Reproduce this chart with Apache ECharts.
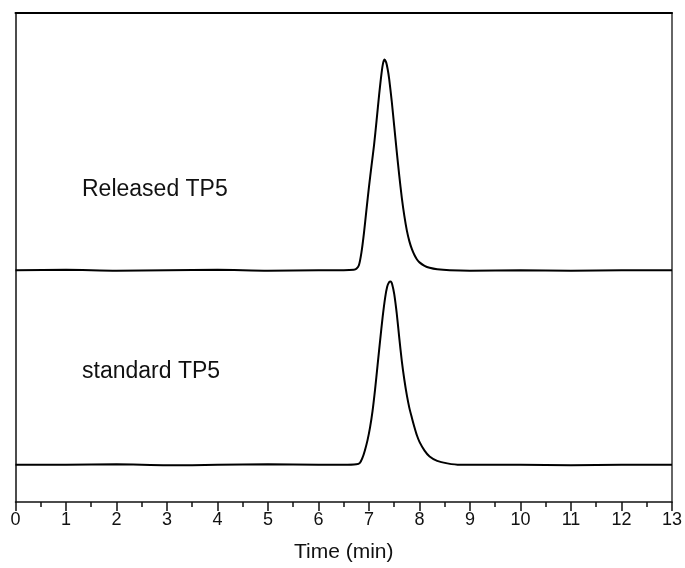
<!DOCTYPE html>
<html>
<head>
<meta charset="utf-8">
<script src="https://cdn.jsdelivr.net/npm/echarts@6/dist/echarts.min.js"></script>
<style>html,body{margin:0;padding:0;background:#fff;}#c{width:685px;height:568px;}</style>
</head>
<body>
<div id="c"></div>
<script>
// Data (time in min, arbitrary signal units)
var releasedTime = [0,1,2,3,4,5,6,6.5,6.7,6.75,6.8,6.85,6.9,6.95,7.0,7.05,7.1,7.15,7.2,7.25,7.28,7.31,7.34,7.37,7.4,7.45,7.5,7.55,7.6,7.65,7.7,7.75,7.8,7.85,7.9,7.95,8.0,8.1,8.2,8.35,8.6,9,10,11,12,13];
var releasedSignal = [47.4,47.5,47.3,47.4,47.5,47.3,47.4,47.4,47.5,47.7,48.4,51.0,55.0,59.8,64.5,68.8,73.0,78.0,83.2,87.8,89.8,90.5,89.9,88.5,86.5,82.0,76.8,71.6,66.7,62.2,58.5,55.5,53.3,51.7,50.5,49.6,49.0,48.3,47.9,47.6,47.4,47.3,47.4,47.3,47.4,47.4];
var standardTime = [0,1,2,3,4,5,6,6.5,6.75,6.82,6.87,6.92,6.97,7.02,7.07,7.12,7.17,7.22,7.27,7.32,7.36,7.4,7.43,7.46,7.5,7.55,7.6,7.65,7.7,7.75,7.8,7.85,7.9,7.95,8.0,8.1,8.2,8.35,8.55,8.8,9,10,11,12,13];
var standardSignal = [7.6,7.6,7.7,7.5,7.6,7.7,7.6,7.6,7.7,8.0,9.0,10.6,12.6,15.2,18.6,23.0,28.0,33.0,37.8,41.8,44.0,45.0,45.1,44.5,42.5,38.5,33.5,28.8,25.0,21.8,19.2,17.2,15.3,13.6,12.3,10.5,9.3,8.4,7.9,7.6,7.6,7.6,7.5,7.6,7.6];
var xTicks = [0,1,2,3,4,5,6,7,8,9,10,11,12,13];
var labels = ["Released TP5", "standard TP5"];

function pairs(xs, ys){ return xs.map(function(x,i){ return [x, ys[i]]; }); }

var chart = echarts.init(document.getElementById('c'), null, {renderer:'canvas'});
var font = '"Liberation Sans", Arial, sans-serif';
chart.setOption({
  animation: false,
  backgroundColor: '#fff',
  grid: {left: 15.5, right: 12.5, top: 13, bottom: 66},
  xAxis: [{
    type: 'value', min: xTicks[0], max: xTicks[xTicks.length-1], interval: 1,
    position: 'bottom',
    name: 'Time (min)', nameLocation: 'middle', nameGap: 40,
    nameTextStyle: {fontFamily: font, fontSize: 21, color: '#111'},
    axisLine: {show: true, onZero: false, lineStyle: {color: '#111', width: 1.5}},
    axisTick: {show: true, inside: false, length: 9, lineStyle: {color: '#111', width: 1.5}},
    minorTick: {show: true, splitNumber: 2, length: 5, lineStyle: {color: '#111', width: 1.5}},
    axisLabel: {fontFamily: font, fontSize: 18, color: '#111', margin: 9},
    splitLine: {show: false}
  },{
    type: 'value', min: 0, max: 13, position: 'top',
    axisLine: {show: true, onZero: false, lineStyle: {color: '#000', width: 2}},
    axisTick: {show: false}, axisLabel: {show: false}, splitLine: {show: false}
  }],
  yAxis: [{
    type: 'value', min: 0, max: 100, position: 'left',
    axisLine: {show: true, onZero: false, lineStyle: {color: '#111', width: 1.5}},
    axisTick: {show: false}, axisLabel: {show: false}, splitLine: {show: false}
  },{
    type: 'value', min: 0, max: 100, position: 'right',
    axisLine: {show: true, onZero: false, lineStyle: {color: '#333', width: 1.5}},
    axisTick: {show: false}, axisLabel: {show: false}, splitLine: {show: false}
  }],
  series: [{
    type: 'line', name: labels[0], data: pairs(releasedTime, releasedSignal),
    showSymbol: false, smooth: 0.25,
    lineStyle: {color: '#000', width: 2}
  },{
    type: 'line', name: labels[1], data: pairs(standardTime, standardSignal),
    showSymbol: false, smooth: 0.25,
    lineStyle: {color: '#000', width: 2}
  }],
  graphic: [
    {type: 'text', left: 82, top: 178, style: {text: labels[0], font: '23px ' + font, fill: '#111'}},
    {type: 'text', left: 82, top: 360, style: {text: labels[1], font: '23px ' + font, fill: '#111'}}
  ]
});
</script>
</body>
</html>
